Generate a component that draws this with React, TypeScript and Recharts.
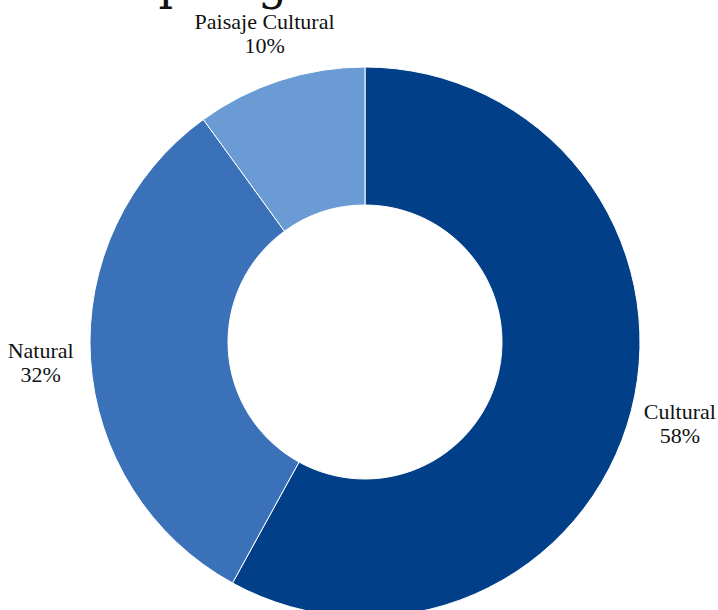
import { PieChart, Pie, Cell } from "recharts"

const categories = ["Cultural", "Natural", "Paisaje Cultural"]
const shares = [58, 32, 10]
const colors = ["#023f89", "#3a71b8", "#6a9bd4"]

const data = categories.map((name, i) => ({ name, value: shares[i] }))

const RAD = Math.PI / 180

function renderLabel(props: any) {
  const { cx, cy, midAngle, outerRadius, name, value } = props
  const r = outerRadius + 50
  const x = cx + r * Math.cos(-midAngle * RAD)
  const y = cy + r * Math.sin(-midAngle * RAD)
  return (
    <text
      x={x}
      y={y}
      textAnchor="middle"
      fill="#111"
      fontFamily="'Liberation Serif', serif"
      fontSize={22}
    >
      <tspan x={x} dy={-4}>{name}</tspan>
      <tspan x={x} dy={24}>{`${value}%`}</tspan>
    </text>
  )
}

export default function App() {
  return (
    <div style={{ position: "fixed", left: 0, top: 0, width: 718, height: 610, background: "#fff" }}>
      <PieChart width={718} height={610} margin={{ top: 0, right: 0, bottom: 0, left: 0 }}>
        <text x={113} y={-1} fontFamily="'DejaVu Serif', serif" fontSize={46} fill="#111">
          Tipología
        </text>
        <Pie
          data={data}
          dataKey="value"
          nameKey="name"
          cx={365}
          cy={342}
          innerRadius={137}
          outerRadius={275}
          startAngle={90}
          endAngle={-270}
          stroke="#fff"
          strokeWidth={1}
          label={renderLabel}
          labelLine={false}
          isAnimationActive={false}
        >
          {data.map((d, i) => (
            <Cell key={d.name} fill={colors[i]} />
          ))}
        </Pie>
      </PieChart>
    </div>
  )
}
